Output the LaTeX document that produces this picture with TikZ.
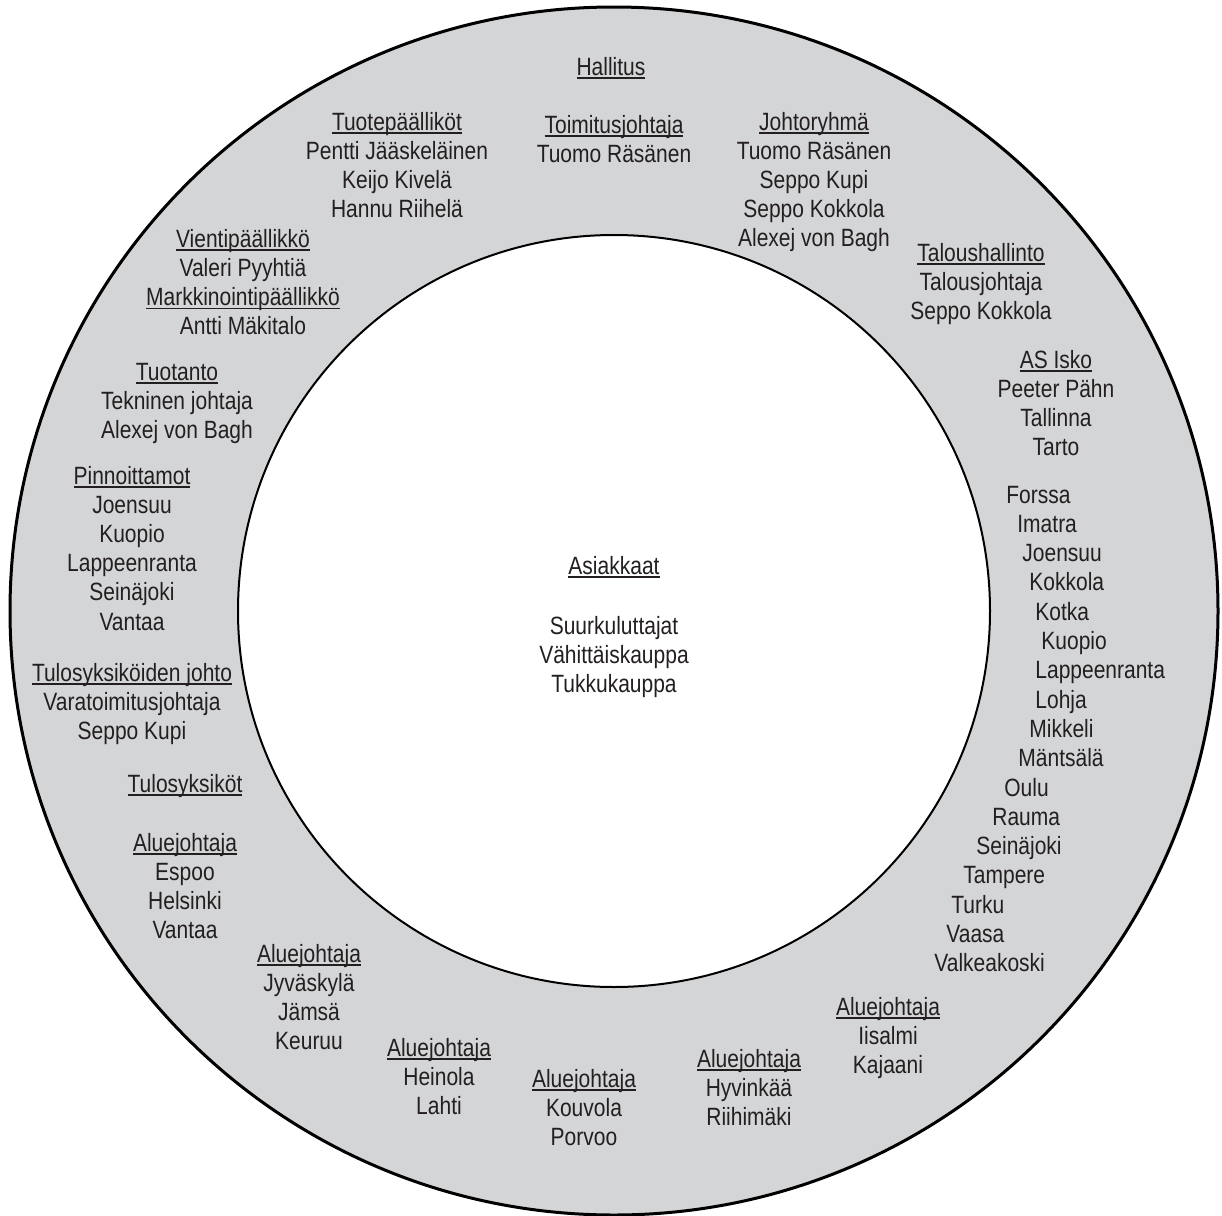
\documentclass[tikz,border=0pt]{standalone}
\usepackage{fontspec}
\setmainfont[FakeStretch=0.84]{Liberation Sans}
\definecolor{ringgray}{RGB}{212,213,215}
\definecolor{inkgray}{RGB}{35,31,32}
\newcommand{\ulin}[1]{\setbox0=\hbox{#1}\rlap{\rule[-1.9pt]{\wd0}{0.8pt}}\box0}
\newcommand{\blk}[1]{\begin{tabular}[t]{@{}c@{}}#1\end{tabular}}
\tikzset{
  lbl/.style={inner sep=0pt, text=inkgray, anchor=base,
    font=\fontsize{12.5}{14.6}\selectfont},
}
\begin{document}
\begin{tikzpicture}[x=0.5pt,y=-0.5pt]
        \useasboundingbox (0,0) rectangle (1222,1216);
        % ring
        \fill[ringgray, even odd rule] (614,611) circle[radius=604] (614,611) circle[radius=376];
        \draw[line width=1.5pt] (614,611) circle[radius=604];
        \draw[line width=1pt] (614,611) circle[radius=376];
        % centre
        \node[lbl] (asiakkaat) at (614,574) {\ulin{Asiakkaat}};
        \node[lbl] (ryhmat) at (614,634) {\blk{Suurkuluttajat\\Vähittäiskauppa\\Tukkukauppa}};
        % top of the ring
        \node[lbl] (hallitus) at (611,75) {\ulin{Hallitus}};
        \node[lbl] (toimitus) at (614,133) {\blk{\ulin{Toimitusjohtaja}\\Tuomo Räsänen}};
        \node[lbl] (tuotepaal) at (397,130) {\blk{\ulin{Tuotepäälliköt}\\Pentti Jääskeläinen\\Keijo Kivelä\\Hannu Riihelä}};
        \node[lbl] (johtoryhma) at (814,130) {\blk{\ulin{Johtoryhmä}\\Tuomo Räsänen\\Seppo Kupi\\Seppo Kokkola\\Alexej von Bagh}};
        \node[lbl] (vienti) at (243,247) {\blk{\ulin{Vientipäällikkö}\\Valeri Pyyhtiä\\\ulin{Markkinointipäällikkö}\\Antti Mäkitalo}};
        \node[lbl] (talous) at (981,261) {\blk{\ulin{Taloushallinto}\\Talousjohtaja\\Seppo Kokkola}};
        % left side
        \node[lbl] (tuotanto) at (177,380) {\blk{\ulin{Tuotanto}\\Tekninen johtaja\\Alexej von Bagh}};
        \node[lbl] (pinnoitus) at (132,484) {\blk{\ulin{Pinnoittamot}\\Joensuu\\Kuopio\\Lappeenranta\\Seinäjoki\\Vantaa}};
        \node[lbl] (johto) at (132,681) {\blk{\ulin{Tulosyksiköiden johto}\\Varatoimitusjohtaja\\Seppo Kupi}};
        \node[lbl] (tulosyks) at (185,792) {\ulin{Tulosyksiköt}};
        % bottom: regions
        \node[lbl] (alue1) at (185,851) {\blk{\ulin{Aluejohtaja}\\Espoo\\Helsinki\\Vantaa}};
        \node[lbl] (alue2) at (309,962) {\blk{\ulin{Aluejohtaja}\\Jyväskylä\\Jämsä\\Keuruu}};
        \node[lbl] (alue3) at (439,1056) {\blk{\ulin{Aluejohtaja}\\Heinola\\Lahti}};
        \node[lbl] (alue4) at (584,1087) {\blk{\ulin{Aluejohtaja}\\Kouvola\\Porvoo}};
        \node[lbl] (alue5) at (749,1067) {\blk{\ulin{Aluejohtaja}\\Hyvinkää\\Riihimäki}};
        \node[lbl] (alue6) at (888,1015) {\blk{\ulin{Aluejohtaja}\\Iisalmi\\Kajaani}};
        % right side
        \node[lbl] (isko) at (1056,368) {\blk{\ulin{AS Isko}\\Peeter Pähn\\Tallinna\\Tarto}};
        \foreach \town/\xl [count=\i from 0] in {Forssa/1006, Imatra/1017, Joensuu/1022,
            Kokkola/1029, Kotka/1035, Kuopio/1041, Lappeenranta/1035, Lohja/1035,
            Mikkeli/1029, Mäntsälä/1018, Oulu/1004, Rauma/992, Seinäjoki/976,
            Tampere/963, Turku/951, Vaasa/946, Valkeakoski/934}
          \node[lbl, anchor=base west] (kaupunki\i) at ({\xl},{503+29.3*\i}) {\town};
\end{tikzpicture}
\end{document}
